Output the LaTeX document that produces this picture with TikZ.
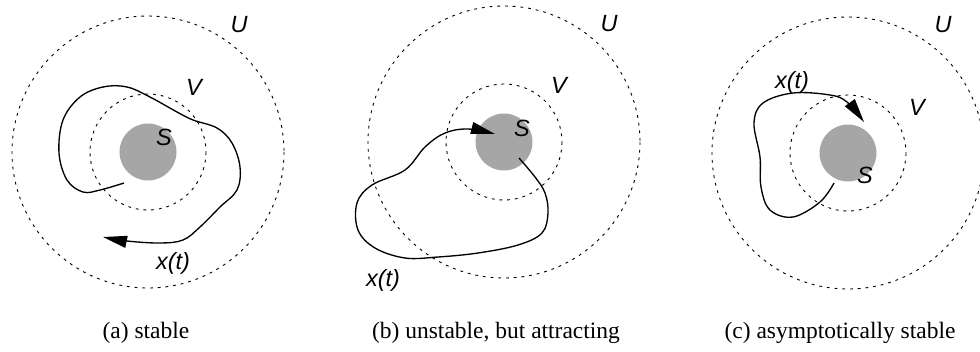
\documentclass[tikz,border=0pt]{standalone}
\usepackage{fontspec}
\setmainfont{Liberation Serif}
\setsansfont{Liberation Sans}
\usetikzlibrary{arrows.meta}
\definecolor{ink}{HTML}{000000}
\definecolor{setgrey}{HTML}{A6A6A6}
\def\RU{136}
\def\RV{58}
\def\RS{28.5}
\tikzset{
  nbhd/.style={ink,line width=0.65pt,dash pattern=on 2pt off 3.5pt},
  traj/.style={ink,line width=0.95pt,-{Triangle[length=0.6cm,width=0.3cm]}},
  lbl/.style={font=\sffamily\itshape\fontsize{16.7}{20}\selectfont,inner sep=0pt},
  capt/.style={font=\fontsize{16.7}{20}\selectfont,inner sep=0pt},
}
\newcommand{\nbhd}[1]{%
  \begin{scope}[shift={(#1)}]
    \draw[nbhd] (0,0) circle (\RU);
    \draw[nbhd] (0,0) circle (\RV);
    \fill[setgrey] (0,0) circle (\RS);
  \end{scope}}

\begin{document}
\begin{tikzpicture}[x=0.025cm,y=-0.025cm]
\useasboundingbox (0,0) rectangle (980,351);

% ---------------------------------------------------------------- neighbourhoods U, V and the set S
\foreach \x/\y in {148/152,504/142,848/153}
  {\nbhd{\x,\y}}

% ---------------------------------------------------------------- (a) stable
\draw[traj] plot[smooth,tension=0.6] coordinates {
  (124,183) (100,190) (83,192) (67,180) (59,153) (63,120) (80,97) (103,87)
  (127,87) (150,97) (177,112) (193,120) (217,128) (232,143) (240,167)
  (237,190) (220,207) (200,227) (183,240) (160,243) (127,241) (103,237)};
\node[lbl] (uA) at (239,25) {U};
\node[lbl] (vA) at (194,87) {V};
\node[lbl] (sA) at (164,137) {S};
\node[lbl] (xA) at (173,263) {x(t)};
\node[capt] (capA) at (146,333) {(a) stable};

% ---------------------------------------------------------------- (b) unstable, but attracting
\draw[traj] plot[smooth,tension=0.6] coordinates {
  (519,158) (535,177) (545,193) (548,213) (542,233) (518,245) (478,253)
  (438,257) (405,258) (375,248) (358,230) (357,203) (372,185) (405,170)
  (425,147) (445,133) (468,129) (495,134)};
\node[lbl] (uB) at (609,24) {U};
\node[lbl] (vB) at (559,85) {V};
\node[lbl] (sB) at (522,128) {S};
\node[lbl] (xB) at (383,280) {x(t)};
\node[capt] (capB) at (496,333) {(b) unstable, but attracting};

% ---------------------------------------------------------------- (c) asymptotically stable
\draw[traj] plot[smooth,tension=0.6] coordinates {
  (834,183) (820,202) (793,217) (770,210) (761,187) (760,157) (754,123)
  (763,103) (793,93) (830,95) (847,102) (864,122)};
\node[lbl] (uC) at (943,25) {U};
\node[lbl] (vC) at (917,107) {V};
\node[lbl] (sC) at (865,175) {S};
\node[lbl] (xC) at (792,82) {x(t)};
\node[capt] (capC) at (840,333) {(c) asymptotically stable};

\end{tikzpicture}
\end{document}
